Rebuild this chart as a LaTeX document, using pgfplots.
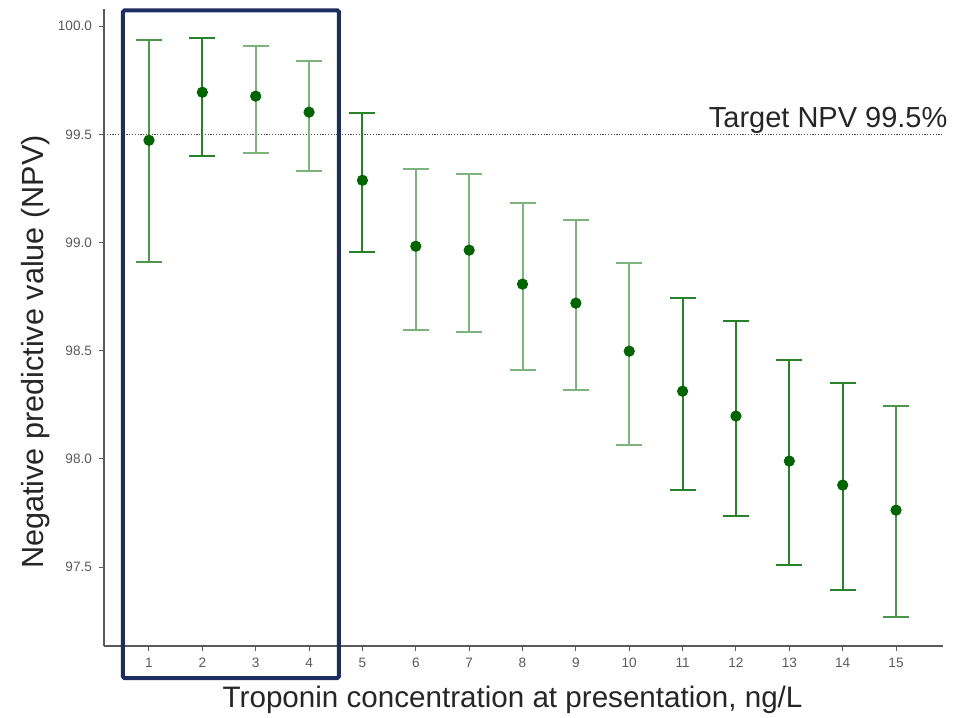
\documentclass[border=0pt]{standalone}
\usepackage{pgfplots}
\usepackage{pgfplotstable}
\pgfplotsset{compat=1.18}
\usepackage{fontspec}
\setmainfont{Liberation Sans}
\definecolor{ebdark}{RGB}{40,130,40}
\definecolor{ebmed}{RGB}{75,150,75}
\definecolor{eblight}{RGB}{125,180,125}
\definecolor{ptgreen}{RGB}{0,100,0}
\definecolor{boxblue}{RGB}{30,45,95}
\definecolor{axgrey}{RGB}{90,90,90}
\pgfplotstableread{
x y up lo
2 99.695 99.945 99.399
5 99.288 99.598 98.956
11 98.313 98.743 97.856
12 98.198 98.637 97.736
13 97.990 98.457 97.509
14 97.879 98.350 97.394
}\darkgrp
\pgfplotstableread{
x y up lo
1 99.473 99.935 98.909
15 97.763 98.244 97.269
}\medgrp
\pgfplotstableread{
x y up lo
3 99.677 99.908 99.413
4 99.603 99.838 99.330
6 98.983 99.339 98.595
7 98.965 99.316 98.586
8 98.808 99.182 98.410
9 98.720 99.104 98.318
10 98.498 98.905 98.064
}\lightgrp
\pgfplotstableread{
x y
1 99.473
2 99.695
3 99.677
4 99.603
5 99.288
6 98.983
7 98.965
8 98.808
9 98.720
10 98.498
11 98.313
12 98.198
13 97.990
14 97.879
15 97.763
}\allpts
\pgfplotsset{
  ebstyle/.style={draw=none, mark=none, forget plot,
  error bars/.cd, y dir=both, y explicit,
  error bar style={#1, line width=1pt},
  error mark options={#1, line width=1pt, rotate=90, mark size=6.5pt}},
}
\begin{document}
\begin{tikzpicture}
\begin{axis}[
  at={(0,0)}, anchor=south west,
  scale only axis, width=419.5pt, height=318.5pt,
  xmin=0.157, xmax=15.88, ymin=97.135, ymax=100.08,
  axis x line*=bottom, axis y line*=left,
  axis line style={axgrey, line width=0.6pt},
  tick align=outside,
  major tick length=2.5pt,
  tick style={axgrey, line width=0.5pt},
  xtick={1,...,15},
  ytick={97.5,98.0,98.5,99.0,99.5,100.0},
  yticklabel style={/pgf/number format/.cd, fixed, fixed zerofill, precision=1},
  /pgf/number format/assume math mode=true,
  tick label style={font=\fontsize{6.8}{8}\selectfont, text=axgrey},
  xlabel={Troponin concentration at presentation, ng/L},
  ylabel={Negative predictive value (NPV)},
  xlabel style={at={(axis description cs:0.487,-0.0973)}, anchor=base, font=\fontsize{14.8}{16}\selectfont, text=black!85},
  ylabel style={at={(axis description cs:-0.0727,0.4615)}, anchor=base, font=\fontsize{15.3}{16}\selectfont, text=black!85},
  clip=false,
]
\addplot[black!70, dash pattern=on 0.6pt off 0.8pt, line width=0.7pt, forget plot] coordinates {(0.157,99.5) (15.88,99.5)};
\addplot[ebstyle=ebdark] table[x=x, y=y, y error plus expr=\thisrow{up}-\thisrow{y}, y error minus expr=\thisrow{y}-\thisrow{lo}]{\darkgrp};
\addplot[ebstyle=ebmed] table[x=x, y=y, y error plus expr=\thisrow{up}-\thisrow{y}, y error minus expr=\thisrow{y}-\thisrow{lo}]{\medgrp};
\addplot[ebstyle=eblight] table[x=x, y=y, y error plus expr=\thisrow{up}-\thisrow{y}, y error minus expr=\thisrow{y}-\thisrow{lo}]{\lightgrp};
\addplot[only marks, mark=*, mark size=2.6pt, ptgreen] table[x=x, y=y]{\allpts};
\node[anchor=base east, font=\fontsize{14.5}{16}\selectfont, text=black!85, inner sep=0pt] at (axis cs:15.97,99.533) {Target NPV 99.5\%};
\draw[boxblue, line width=2pt, rounded corners=0.8pt] (axis cs:0.513,100.074) rectangle (axis cs:4.56,96.987);
\end{axis}
\pgfresetboundingbox
\path (-52pt,-35.5pt) rectangle (426pt,323pt);
\end{tikzpicture}
\end{document}
